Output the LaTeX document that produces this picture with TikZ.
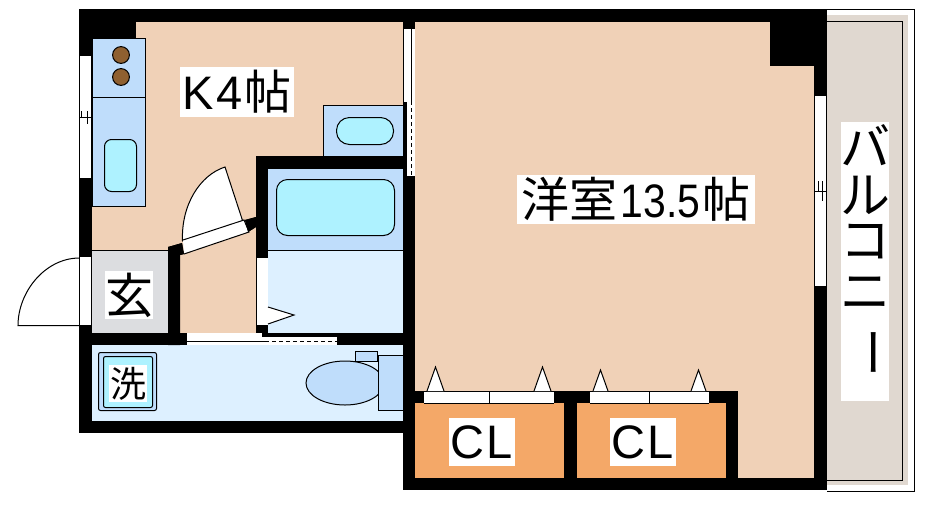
\documentclass[tikz,border=0pt]{standalone}
\usepackage{fontspec}
\usepackage{graphicx}
\setmainfont{Liberation Sans}
\newfontfamily\cjk{Noto Sans CJK JP}
\definecolor{peach}{HTML}{F0D1B7}
\definecolor{closet}{HTML}{F4A868}
\definecolor{fixture}{HTML}{BFDDFB}
\definecolor{basin}{HTML}{AEF2FF}
\definecolor{wet}{HTML}{DDF0FF}
\definecolor{entry}{HTML}{DCDDE0}
\definecolor{balc}{HTML}{E0D8D0}
\tikzset{
  wall/.style={fill=black,draw=none},
  ln/.style={draw=black,line width=1pt},
  fixt/.style={ln,fill=fixture},
  sinkb/.style={ln,fill=basin},
  opening/.style={fill=white,draw=none},
  tri/.style={ln,fill=white,line join=miter},
  tag/.style={fill=white,inner sep=0pt,text=black,align=center}
}
\begin{document}
\begin{tikzpicture}[x=1pt,y=-1pt]
\useasboundingbox (0,0) rectangle (944,507);
\fill[white] (0,0) rectangle (944,507);
% balcony
\draw[ln,fill=white] (827,9.5) -- (914.5,9.5) -- (914.5,491) -- (827,491);
\fill[balc] (827,15) rectangle (908,485);
\draw[ln] (827,21.5) -- (902.5,21.5) -- (902.5,480.5) -- (827,480.5);
% floors
\fill[peach] (92,22) -- (403,22) -- (403,156) -- (256,156) -- (256,333) -- (170,333) -- (170,250) -- (92,250) -- cycle;
\fill[peach] (415,22) rectangle (815,478);
\fill[entry] (92,250) rectangle (168,333);
\fill[wet] (268,250) rectangle (403,333);
\fill[fixture] (268,169) rectangle (403,250);
\fill[wet] (92,345) rectangle (403,421);
\fill[closet] (415,403) rectangle (564,478);
\fill[closet] (577,403) rectangle (726,478);
% walls
\fill[wall] (79,9) rectangle (827,22);
\fill[wall] (79,9) rectangle (92,433);
\fill[wall] (79,9) rectangle (136,38);
\fill[wall] (79,421) rectangle (415,433);
\fill[wall] (79,333) rectangle (403,345);
\fill[wall] (403,22) rectangle (415,490);
\fill[wall] (403,478) rectangle (827,490);
\fill[wall] (814,9) rectangle (827,490);
\fill[wall] (770,22) rectangle (814,66);
\fill[wall] (256,156) rectangle (403,169);
\fill[wall] (256,156) rectangle (268,337);
\fill[wall] (415,391) rectangle (738,403);
\fill[wall] (564,391) rectangle (577,478);
\fill[wall] (726,391) rectangle (738,478);
\fill[wall] (168,247) -- (182,243) -- (184,254) -- (180,255) -- (180,345) -- (168,345) -- cycle;
\fill[wall] (245,220) -- (256,217) -- (256,227) -- (248,232) -- cycle;
% windows
\fill[opening] (80,56) rectangle (92,178);
\draw[ln] (79.5,56) -- (79.5,178) (91.5,56) -- (91.5,178) (79.5,55.5) -- (91.5,55.5) (79.5,178.5) -- (91.5,178.5);
\draw[ln] (79.5,117.5) -- (91.5,117.5) (81.5,111) -- (81.5,117) (87.5,111) -- (87.5,124);
\fill[opening] (814.5,95) rectangle (827,287);
\draw[ln] (814.5,95) -- (814.5,287) (826.5,95) -- (826.5,287) (814.5,95.5) -- (826.5,95.5) (814.5,286.5) -- (826.5,286.5);
\draw[ln] (814.5,191.5) -- (826.5,191.5) (818.5,181) -- (818.5,191) (822.5,181) -- (822.5,201);
% kitchen counter
\draw[fixt] (92,38.5) rectangle (145.5,206);
\draw[ln] (92,97.5) -- (145.5,97.5);
\draw[ln,fill=brown!75!black] (121,55) circle [radius=8.4pt];
\draw[ln,fill=brown!75!black] (121,77) circle [radius=8.4pt];
\draw[sinkb,rounded corners=7pt] (104.5,139.5) rectangle (136.5,191.5);
% wash basin
\fill[fixture] (324,106) rectangle (403,156);
\draw[ln] (403,105.5) -- (323.5,105.5) -- (323.5,156);
\draw[sinkb,rounded corners=13pt] (336.5,117.5) rectangle (393.5,144.5);
% sliding door top right
\fill[opening] (403.5,29) rectangle (415,176);
\fill[wall] (403,102) rectangle (407,176);
\draw[ln] (411.5,29) -- (411.5,101);
\draw[ln,dash pattern=on 4pt off 3pt] (411.5,101) -- (411.5,176);
% bath
\draw[sinkb,rounded corners=11pt] (276.5,179.5) rectangle (394.5,235.5);
\draw[ln] (268,250.5) -- (403,250.5);
% bath door
\fill[opening] (257,258) rectangle (268,325);
\draw[ln] (256.5,258) -- (256.5,325);
\draw[tri] (268,307) -- (294,315) -- (268,324);
% kitchen door
\draw[ln,fill=white] (243,222) -- (225,167) .. controls (200,175) and (181,205) .. (182.5,241) -- cycle;
\draw[ln,fill=white] (183,240) -- (244,220) -- (249,232) -- (184,254);
\fill[wall] (245,220) -- (256,217) -- (256,227) -- (248,232) -- cycle;
\fill[wall] (168,247) -- (182,243) -- (184,254) -- (180,255) -- (168,255) -- cycle;
% entrance
\draw[ln] (92,250.5) -- (168,250.5);
\fill[opening] (80,257) rectangle (92,325);
\draw[ln] (79.5,258) -- (79.5,325);
\draw[ln] (91.5,257) -- (91.5,325);
\draw[ln] (79.5,258) .. controls (45,258) and (18,292) .. (18,325.5) -- (79.5,325.5);
% sliding door to wash
\fill[opening] (186.5,333) rectangle (262,345);
\fill[opening] (262,337) rectangle (337,345);
\draw[ln] (186.5,341.5) -- (265,341.5);
\draw[ln,dash pattern=on 4pt off 3pt] (265,341.5) -- (337,341.5);
% washer
\draw[fixt,rounded corners=2pt] (98.5,352.5) rectangle (156.5,410.5);
\draw[sinkb,rounded corners=2pt] (103.5,356.5) rectangle (152.5,407.5);
% toilet
\draw[fixt] (345,383) ellipse [x radius=39pt,y radius=22pt];
\draw[fixt] (355.5,351.5) rectangle (377.5,361.5);
\fill[fixture] (378,355) rectangle (403,410);
\draw[ln] (403,355.5) -- (378.5,355.5) -- (378.5,410.5) -- (403,410.5);
% closet doors
\fill[white] (424,391.5) rectangle (554,403);
\draw[ln] (424,391.5) -- (554,391.5) (424,403) -- (554,403) (489.5,391.5) -- (489.5,404);
\fill[white] (590,391.5) rectangle (709,403);
\draw[ln] (590,391.5) -- (709,391.5) (590,403) -- (709,403) (649.5,391.5) -- (649.5,404);
\draw[tri] (427,391) -- (435.5,367) -- (444,391);
\draw[tri] (534,391) -- (542.5,367) -- (551,391);
\draw[tri] (593,391) -- (600.5,370) -- (608,391);
\draw[tri] (691,391) -- (698.5,370) -- (706,391);
% labels
\node[tag,minimum width=114pt,minimum height=50pt] (k) at (237,92) {\fontsize{47}{47}\selectfont K\hspace{3pt}4\hspace{2pt}{\cjk 帖}};
\node[tag,minimum width=238pt,minimum height=49pt] (west) at (636,199.5) {\fontsize{48}{48}\selectfont{\cjk 洋室}\hspace{3pt}\scalebox{0.87}[1]{\fontsize{47}{47}\selectfont 13.5}\hspace{2pt}{\cjk 帖}};
\node[tag,minimum width=48pt,minimum height=48pt] (gen) at (129,295) {\fontsize{48}{48}\selectfont\cjk 玄};
\node[tag,minimum width=38pt,minimum height=37pt] (sen) at (128,383.5) {\fontsize{36}{36}\selectfont\cjk 洗};
\node[tag,minimum width=66pt,minimum height=48pt] (cl1) at (482,442) {\fontsize{47}{47}\selectfont C\hspace{2pt}L};
\node[tag,minimum width=66pt,minimum height=48pt] (cl2) at (643,442) {\fontsize{47}{47}\selectfont C\hspace{2pt}L};
\node[tag,minimum width=48pt,minimum height=279pt] (balbg) at (865,261.5) {};
\node[inner sep=0pt] (b1) at (865,145) {\fontsize{50}{50}\selectfont\cjk バ};
\node[inner sep=0pt] (b2) at (865,195) {\fontsize{50}{50}\selectfont\cjk ル};
\node[inner sep=0pt] (b3) at (865,242) {\fontsize{50}{50}\selectfont\cjk コ};
\node[inner sep=0pt] (b4) at (865,293) {\fontsize{50}{50}\selectfont\cjk ニ};
\node[inner sep=0pt,rotate=-90] (b5) at (865,352) {\fontsize{50}{50}\selectfont\cjk ー};
\end{tikzpicture}
\end{document}
